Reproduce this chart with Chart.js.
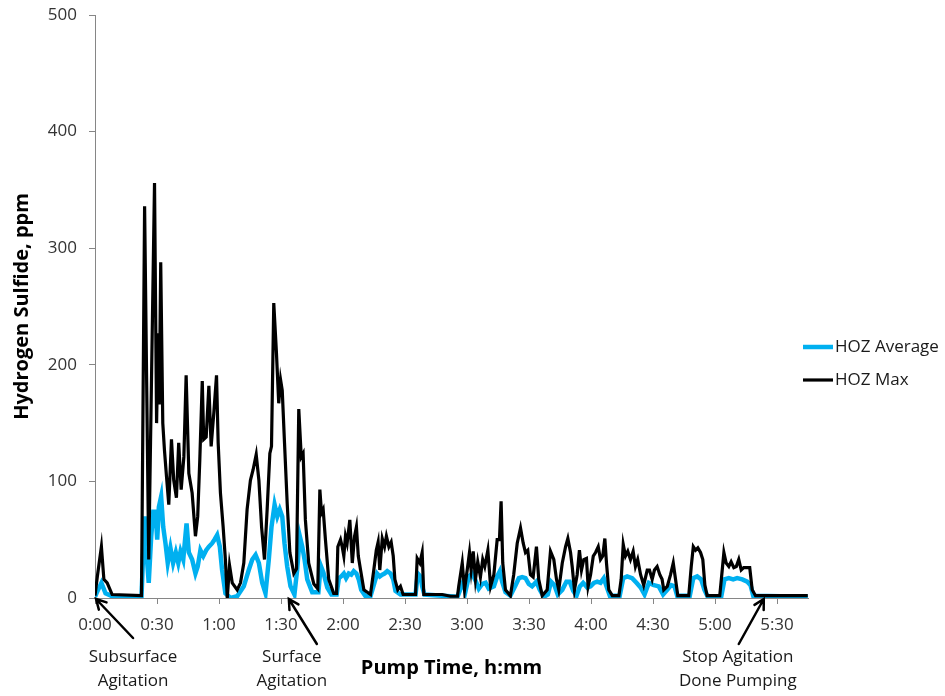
<!DOCTYPE html>
<html>
<head>
<meta charset="utf-8">
<script src="https://cdn.jsdelivr.net/npm/chart.js@4.4.0/dist/chart.umd.min.js"></script>
<style>
  html, body { margin: 0; padding: 0; background: #ffffff; }
  #wrap { width: 945px; height: 696px; }
</style>
</head>
<body>
<div id="wrap"><canvas id="h2sChart" width="945" height="696"></canvas></div>
<script>
// pump time in minutes, H2S in ppm
const maxTimes = [0, 1.1, 3.1, 4.3, 5.9, 8.3, 22.5, 24.0, 26.0, 28.8, 29.8, 30.6, 31.1, 31.8, 32.8, 33.6, 34.6, 35.7, 37.0, 38.1,
  39.4, 40.5, 41.7, 43.0, 44.1, 45.4, 47.0, 48.6, 49.7, 50.7, 51.9, 52.6, 53.8, 55.1, 56.2, 57.5, 58.8, 59.6, 60.7, 62.0,
  63.1, 64.0, 65.1, 66.4, 68.8, 70.4, 72.0, 73.6, 75.2, 76.5, 78.0, 79.3, 80.6, 82.0, 83.3, 84.6, 85.4, 86.5, 87.8, 88.9,
  89.8, 90.6, 91.7, 93.0, 94.3, 96.2, 97.5, 98.6, 99.8, 100.7, 101.8, 103.4, 105.9, 107.8, 108.8, 109.6, 110.4, 111.5, 113.1, 115.5,
  116.9, 117.5, 118.8, 119.6, 120.4, 121.2, 122.0, 123.3, 124.5, 125.6, 126.5, 127.4, 128.5, 130.1, 133.3, 134.9, 136.1, 137.0, 137.8, 139.0,
  140.1, 141.0, 142.2, 143.3, 144.3, 145.1, 146.5, 147.8, 149.1, 155.1, 155.9, 157.2, 158.3, 159.1, 168.0, 172.0, 175.4, 176.0, 177.7, 178.8,
  180.1, 181.2, 182.0, 183.0, 184.1, 185.2, 186.5, 187.6, 188.6, 190.1, 191.4, 193.0, 194.6, 195.7, 196.5, 197.3, 198.6, 201.0, 202.6, 204.3,
  205.9, 207.2, 208.3, 209.4, 210.7, 212.0, 213.6, 214.7, 216.4, 218.8, 220.4, 222.0, 223.3, 224.4, 226.1, 227.7, 228.8, 230.1, 230.9, 232.0,
  233.3, 234.4, 235.4, 236.5, 237.8, 238.6, 239.8, 241.1, 242.2, 243.5, 244.6, 245.7, 246.7, 247.5, 248.6, 250.3, 253.5, 254.6, 255.6, 256.7,
  257.8, 259.1, 260.4, 261.5, 262.6, 264.0, 265.5, 267.2, 268.3, 269.6, 270.7, 272.0, 273.3, 274.4, 275.2, 276.9, 278.5, 279.8, 280.9, 282.0,
  287.3, 288.5, 289.5, 290.6, 291.7, 293.0, 294.1, 295.1, 296.2, 302.3, 303.5, 304.3, 305.4, 306.7, 307.8, 309.1, 310.3, 311.5, 312.7, 313.9,
  315.6, 316.8, 318.0, 319.6, 344.9];
const maxValues = [2, 18, 44, 16, 13, 3, 2, 336, 33, 356, 150, 227, 166, 288, 150, 127, 104, 80, 136, 101,
  86, 133, 93, 121, 191, 107, 90, 53, 70, 118, 186, 136, 138, 182, 130, 159, 191, 133, 90, 61,
  33, 0, 28, 13, 7, 13, 30, 76, 101, 110, 123, 101, 61, 33, 76, 124, 130, 253, 210, 167,
  187, 178, 133, 81, 39, 21, 25, 162, 121, 124, 67, 30, 12, 8, 93, 73, 76, 50, 16, 4,
  4, 44, 50, 44, 36, 53, 47, 67, 30, 53, 61, 36, 24, 7, 3, 24, 41, 48, 24, 51,
  44, 53, 44, 48, 36, 16, 7, 10, 3, 3, 34, 30, 39, 3, 3, 1.5, 1.5, 10, 30, 7,
  24, 39, 24, 40, 16, 31, 18, 33, 27, 41, 10, 20, 50, 50, 83, 30, 7, 2, 20, 47,
  60, 47, 39, 41, 20, 18, 44, 16, 2, 7, 40, 33, 16, 7, 30, 44, 51, 39, 27, 7,
  20, 41, 24, 33, 34, 10, 20, 36, 39, 44, 33, 36, 51, 30, 7, 2, 2, 16, 46, 36,
  40, 33, 40, 27, 33, 20, 11, 24, 24, 16, 24, 27, 20, 16, 7, 10, 20, 30, 16, 2,
  2, 27, 44, 41, 43, 39, 33, 11, 2, 2, 24, 39, 30, 27, 31, 26, 27, 33, 24, 26,
  26, 26, 7, 2, 2];

const avgTimes = [0, 0.7, 3.1, 5.1, 8.3, 22.5, 24.0, 24.9, 26.0, 27.2, 28.2, 29.3, 30.1, 30.9, 32.0, 33.0, 34.1, 35.2, 36.5, 37.8,
  39.1, 40.3, 41.4, 42.7, 44.3, 45.4, 47.0, 48.6, 49.7, 51.0, 52.4, 53.8, 55.1, 56.7, 57.8, 59.1, 60.4, 61.5, 63.1, 65.6,
  68.8, 72.0, 74.4, 76.1, 77.7, 79.3, 80.9, 82.5, 84.1, 85.4, 86.9, 88.2, 89.4, 90.6, 91.7, 93.0, 94.6, 96.5, 97.8, 99.1,
  100.3, 101.4, 102.7, 105.1, 108.1, 109.2, 110.5, 112.4, 114.4, 116.9, 118.0, 119.1, 120.4, 121.5, 122.8, 124.0, 125.2, 126.5, 127.6, 128.8,
  130.9, 133.3, 135.2, 136.5, 137.8, 139.0, 140.1, 141.4, 143.0, 144.3, 145.4, 147.8, 155.1, 156.2, 157.5, 158.3, 159.4, 175.4, 178.2, 179.3,
  180.9, 182.5, 184.1, 185.7, 187.4, 189.0, 190.5, 193.0, 194.6, 195.9, 197.0, 198.6, 201.0, 203.5, 205.1, 206.7, 208.3, 209.9, 211.5, 213.6,
  215.2, 217.2, 219.1, 220.7, 222.3, 223.9, 226.1, 228.1, 229.7, 231.4, 233.0, 234.6, 236.2, 238.2, 239.8, 241.4, 243.0, 244.6, 246.2, 247.5,
  249.1, 253.9, 255.6, 257.5, 259.9, 262.0, 264.0, 265.9, 268.0, 270.4, 272.8, 274.9, 276.9, 278.8, 280.4, 281.7, 287.8, 289.5, 291.4, 293.3,
  294.9, 296.5, 303.0, 304.6, 306.7, 308.8, 310.7, 313.2, 315.6, 317.2, 318.5, 344.9];
const avgValues = [1, 4, 13, 4, 1.5, 1, 70, 39, 13, 53, 74, 74, 50, 78, 87, 61, 47, 30, 43, 30,
  39, 30, 40, 33, 64, 39, 33, 21, 27, 41, 36, 41, 44, 47, 50, 54, 44, 24, 4, 0,
  1.5, 10, 24, 33, 37, 30, 13, 4, 33, 61, 80, 70, 76, 70, 47, 27, 10, 3, 24, 53,
  44, 33, 16, 5, 5, 28, 22, 9, 3, 3, 17, 18.5, 21, 17, 21, 20, 23, 21, 16, 7,
  1.5, 1.5, 13, 21, 18.5, 20, 21, 23, 21, 16, 6, 3, 3, 21, 18.5, 10, 3, 1, 14, 6,
  18.5, 21, 15, 8, 12, 13, 8, 10, 18.5, 23, 14, 5, 2, 11, 17, 18, 17, 12, 10, 14,
  7, 1, 3, 14, 11, 3, 7, 14, 14, 6, 2, 10, 13, 9, 10, 13, 14, 13, 17, 10,
  2, 2, 17, 18.5, 17, 13, 9, 3, 13, 11, 10, 3, 7, 11, 10, 2, 2, 17, 18.5, 16,
  7, 1, 1, 16, 17, 16, 17, 16, 14, 11, 2, 1];

const seriesLabels = ['HOZ Average', 'HOZ Max'];
const noteLabels = [['Subsurface', 'Agitation'], ['Surface', 'Agitation'], ['Stop Agitation', 'Done Pumping']];
const noteTimes = [0.5, 93.8, 323.6];

const FONT = "'Open Sans', 'Noto Sans', sans-serif";

function toPoints(times, values) {
  return times.map((t, i) => ({ x: t, y: values[i] }));
}

function formatHmm(value) {
  const h = Math.floor(value / 60);
  const m = Math.round(value % 60);
  return `${h}:${String(m).padStart(2, '0')}`;
}

const notesPlugin = {
  id: 'notes',
  afterDraw(chart) {
    const { ctx, scales } = chart;
    const xs = scales.x;
    const ys = scales.y;
    ctx.save();

    // legend on the right, drawn in dataset order
    ctx.font = `17px ${FONT}`;
    ctx.textAlign = 'left';
    ctx.textBaseline = 'middle';
    chart.data.datasets.forEach((ds, i) => {
      const ly = 347 + i * 33;
      ctx.strokeStyle = ds.borderColor;
      ctx.lineWidth = ds.borderWidth;
      ctx.beginPath();
      ctx.moveTo(803, ly);
      ctx.lineTo(833, ly);
      ctx.stroke();
      ctx.fillStyle = '#1a1a1a';
      ctx.fillText(ds.label, 835, ly);
    });

    // arrows + captions under the time axis
    const tailDx = [37, 28, -25];
    const tailDy = [39, 45, 45];
    const textDx = [37, 3, -26];
    const baseY = ys.getPixelForValue(0);
    noteTimes.forEach((t, i) => {
      const tipX = xs.getPixelForValue(t);
      const tipY = baseY + 1;
      const tailX = tipX + tailDx[i];
      const tailY = tipY + tailDy[i];
      ctx.strokeStyle = '#000000';
      ctx.lineWidth = 2.5;
      ctx.lineCap = 'round';
      ctx.beginPath();
      ctx.moveTo(tailX, tailY);
      ctx.lineTo(tipX, tipY);
      const ang = Math.atan2(tailY - tipY, tailX - tipX);
      const head = 11;
      ctx.moveTo(tipX + head * Math.cos(ang - 0.5), tipY + head * Math.sin(ang - 0.5));
      ctx.lineTo(tipX, tipY);
      ctx.lineTo(tipX + head * Math.cos(ang + 0.5), tipY + head * Math.sin(ang + 0.5));
      ctx.stroke();

      ctx.fillStyle = '#1a1a1a';
      ctx.font = `17px ${FONT}`;
      ctx.textAlign = 'center';
      ctx.textBaseline = 'middle';
      noteLabels[i].forEach((line, j) => {
        ctx.fillText(line, tipX + textDx[i], baseY + 59 + j * 24);
      });
    });
    ctx.restore();
  }
};

const canvas = document.getElementById('h2sChart');
new Chart(canvas.getContext('2d'), {
  type: 'line',
  data: {
    datasets: [
      {
        label: seriesLabels[0],
        data: toPoints(avgTimes, avgValues),
        borderColor: '#00b0f0',
        borderWidth: 4.5,
        pointRadius: 0,
        tension: 0,
        order: 2
      },
      {
        label: seriesLabels[1],
        data: toPoints(maxTimes, maxValues),
        borderColor: '#000000',
        borderWidth: 3.2,
        pointRadius: 0,
        tension: 0,
        order: 1
      }
    ]
  },
  options: {
    responsive: false,
    animation: false,
    layout: { padding: { top: 15, right: 137, bottom: 0, left: 0 } },
    plugins: {
      legend: { display: false },
      tooltip: { enabled: false }
    },
    scales: {
      x: {
        type: 'linear',
        min: 0,
        max: 345,
        afterFit(scale) { scale.height = 98; },
        afterBuildTicks(scale) {
          scale.ticks = scale.ticks.filter((t) => t.value % 30 === 0);
        },
        border: { color: '#868686', width: 1 },
        grid: { drawOnChartArea: false, drawTicks: true, tickLength: 6, color: '#868686' },
        ticks: {
          stepSize: 30,
          includeBounds: false,
          autoSkip: false,
          maxRotation: 0,
          padding: 11,
          color: '#333333',
          font: { family: FONT, size: 17 },
          callback(value) { return formatHmm(value); }
        },
        title: {
          display: true,
          text: 'Pump Time, h:mm',
          color: '#000000',
          font: { family: FONT, size: 20, weight: 'bold' },
          padding: { top: 16, bottom: 16 }
        }
      },
      y: {
        min: 0,
        max: 500,
        afterFit(scale) {
          scale.width = 95;
          scale.paddingTop = 0;
          scale.paddingBottom = 0;
        },
        border: { color: '#868686', width: 1 },
        grid: { drawOnChartArea: false, drawTicks: true, tickLength: 6, color: '#868686' },
        ticks: {
          stepSize: 100,
          padding: 12,
          color: '#333333',
          font: { family: FONT, size: 17 }
        },
        title: {
          display: true,
          text: 'Hydrogen Sulfide, ppm',
          color: '#000000',
          font: { family: FONT, size: 20, weight: 'bold' },
          padding: { top: 10, bottom: 10 }
        }
      }
    }
  },
  plugins: [notesPlugin]
});
</script>
</body>
</html>
